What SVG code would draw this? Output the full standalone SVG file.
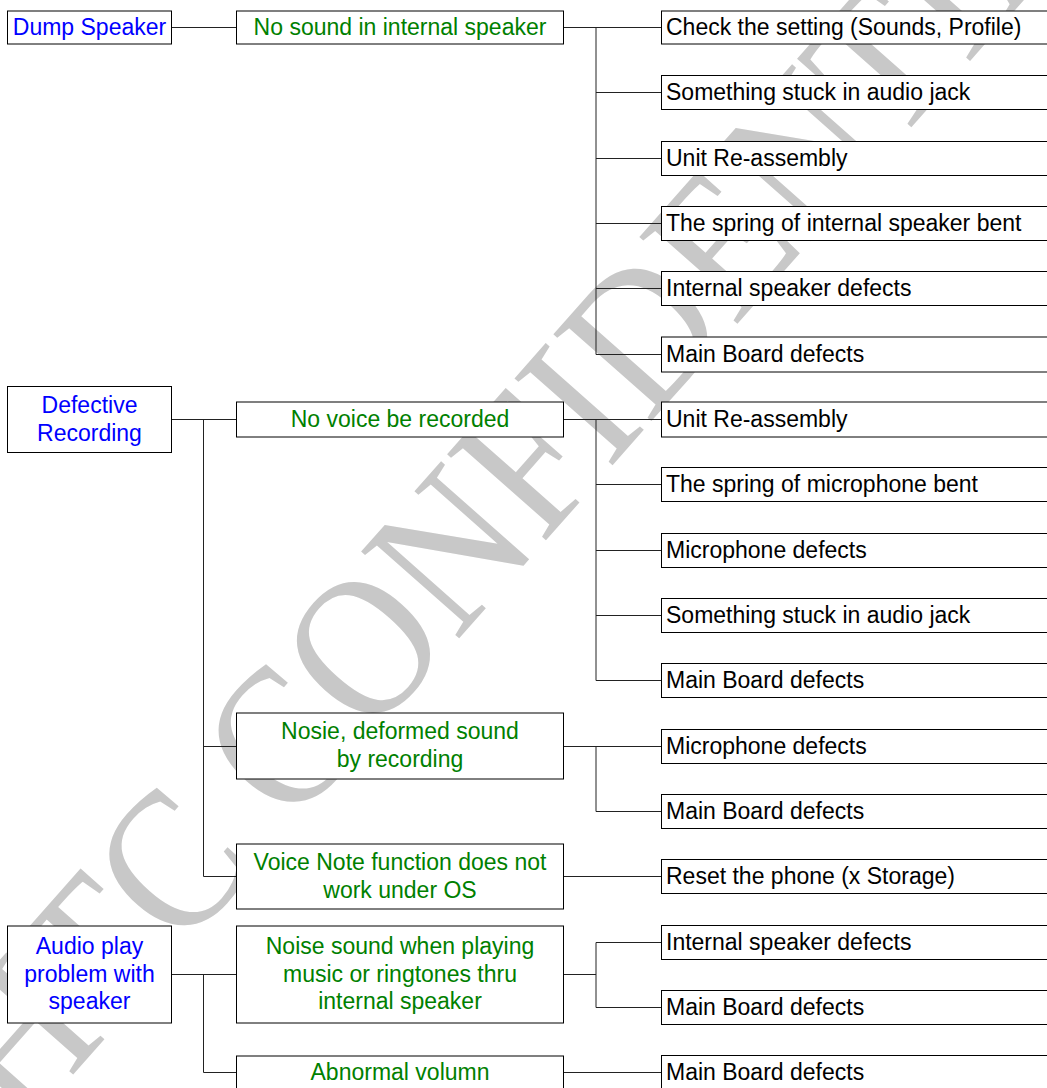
<svg xmlns="http://www.w3.org/2000/svg" width="1047" height="1088" viewBox="0 0 1047 1088">
<style>
.bx{fill:#fff;stroke:#000;stroke-width:1}
.t{font-family:"Liberation Sans",Arial,sans-serif;font-size:23px}
.b{fill:#0000ff;text-anchor:middle}
.g{fill:#008000;text-anchor:middle}
.k{fill:#000}
.wm{font-family:"Liberation Serif","Times New Roman",serif;font-size:200px;fill:#c8c8c8}
#connectors path{fill:none;stroke:#222;stroke-width:1}
</style>
<rect width="1047" height="1088" fill="#fff"/>
<text class="wm" transform="translate(21.7,1132.8) rotate(-48.5) scale(0.9,1)">HTC CONFIDENTIAL</text>
<g id="connectors">
<path d="M171.5 27.5H236.5"/>
<path d="M563.5 27.5H661.5M596 27.5V354.5M596 92.5H661.5M596 158.5H661.5M596 223.5H661.5M596 288.5H661.5M596 354.5H661.5"/>
<path d="M171.5 419.5H236.5M203.5 419.5V876.5M203.5 746.5H236.5M203.5 876.5H236.5"/>
<path d="M563.5 419.5H661.5M596 419.5V680.5M596 484.5H661.5M596 550.5H661.5M596 615.5H661.5M596 680.5H661.5"/>
<path d="M563.5 746.5H661.5M596 746.5V811.5M596 811.5H661.5"/>
<path d="M563.5 876.5H661.5"/>
<path d="M171.5 974.5H236.5M203.5 974.5V1072.5M203.5 1072.5H236.5"/>
<path d="M563.5 974.5H596M596 942.5V1007.5M596 942.5H661.5M596 1007.5H661.5"/>
<path d="M563.5 1072.5H661.5"/>
</g>
<g id="n-dump"><rect class="bx" x="7.5" y="11" width="164" height="33"/><text class="t b" x="89.5" y="35">Dump Speaker</text></g>
<g id="n-defrec"><rect class="bx" x="7.5" y="386.5" width="164" height="66"/><text class="t b" x="89.5" y="412.5">Defective</text><text class="t b" x="89.5" y="440.5">Recording</text></g>
<g id="n-audio"><rect class="bx" x="7.5" y="926" width="164" height="97"/><text class="t b" x="89.5" y="953.5">Audio play</text><text class="t b" x="89.5" y="981.5">problem with</text><text class="t b" x="89.5" y="1009">speaker</text></g>
<g id="n-nosound"><rect class="bx" x="236.5" y="11" width="327" height="33"/><text class="t g" x="400" y="35">No sound in internal speaker</text></g>
<g id="n-novoice"><rect class="bx" x="236.5" y="402" width="327" height="35"/><text class="t g" x="400" y="427">No voice be recorded</text></g>
<g id="n-nosie"><rect class="bx" x="236.5" y="713" width="327" height="66"/><text class="t g" x="400" y="739">Nosie, deformed sound</text><text class="t g" x="400" y="767">by recording</text></g>
<g id="n-voicenote"><rect class="bx" x="236.5" y="844" width="327" height="65"/><text class="t g" x="400" y="869.5">Voice Note function does not</text><text class="t g" x="400" y="897.5">work under OS</text></g>
<g id="n-noise"><rect class="bx" x="236.5" y="926" width="327" height="97"/><text class="t g" x="400" y="953.5">Noise sound when playing</text><text class="t g" x="400" y="981.5">music or ringtones thru</text><text class="t g" x="400" y="1009">internal speaker</text></g>
<g id="n-abnormal"><rect class="bx" x="236.5" y="1056" width="327" height="50"/><text class="t g" x="400" y="1080">Abnormal volumn</text></g>
<g id="r0"><rect class="bx" x="661.5" y="11" width="400" height="33"/><text class="t k" x="666" y="35">Check the setting (Sounds, Profile)</text></g>
<g id="r1"><rect class="bx" x="661.5" y="75.5" width="400" height="34"/><text class="t k" x="666" y="100">Something stuck in audio jack</text></g>
<g id="r2"><rect class="bx" x="661.5" y="141.5" width="400" height="34"/><text class="t k" x="666" y="166">Unit Re-assembly</text></g>
<g id="r3"><rect class="bx" x="661.5" y="206.5" width="400" height="34"/><text class="t k" x="666" y="231">The spring of internal speaker bent</text></g>
<g id="r4"><rect class="bx" x="661.5" y="271.5" width="400" height="34"/><text class="t k" x="666" y="296">Internal speaker defects</text></g>
<g id="r5"><rect class="bx" x="661.5" y="337" width="400" height="35"/><text class="t k" x="666" y="362">Main Board defects</text></g>
<g id="r6"><rect class="bx" x="661.5" y="402" width="400" height="35"/><text class="t k" x="666" y="427">Unit Re-assembly</text></g>
<g id="r7"><rect class="bx" x="661.5" y="467.5" width="400" height="34"/><text class="t k" x="666" y="492">The spring of microphone bent</text></g>
<g id="r8"><rect class="bx" x="661.5" y="533.5" width="400" height="34"/><text class="t k" x="666" y="558">Microphone defects</text></g>
<g id="r9"><rect class="bx" x="661.5" y="598.5" width="400" height="34"/><text class="t k" x="666" y="623">Something stuck in audio jack</text></g>
<g id="r10"><rect class="bx" x="661.5" y="663.5" width="400" height="34"/><text class="t k" x="666" y="688">Main Board defects</text></g>
<g id="r11"><rect class="bx" x="661.5" y="729.5" width="400" height="34"/><text class="t k" x="666" y="754">Microphone defects</text></g>
<g id="r12"><rect class="bx" x="661.5" y="794.5" width="400" height="34"/><text class="t k" x="666" y="819">Main Board defects</text></g>
<g id="r13"><rect class="bx" x="661.5" y="859.5" width="400" height="34"/><text class="t k" x="666" y="884">Reset the phone (x Storage)</text></g>
<g id="r14"><rect class="bx" x="661.5" y="925.5" width="400" height="34"/><text class="t k" x="666" y="950">Internal speaker defects</text></g>
<g id="r15"><rect class="bx" x="661.5" y="990.5" width="400" height="34"/><text class="t k" x="666" y="1015">Main Board defects</text></g>
<g id="r16"><rect class="bx" x="661.5" y="1055.5" width="400" height="34"/><text class="t k" x="666" y="1080">Main Board defects</text></g>
</svg>
